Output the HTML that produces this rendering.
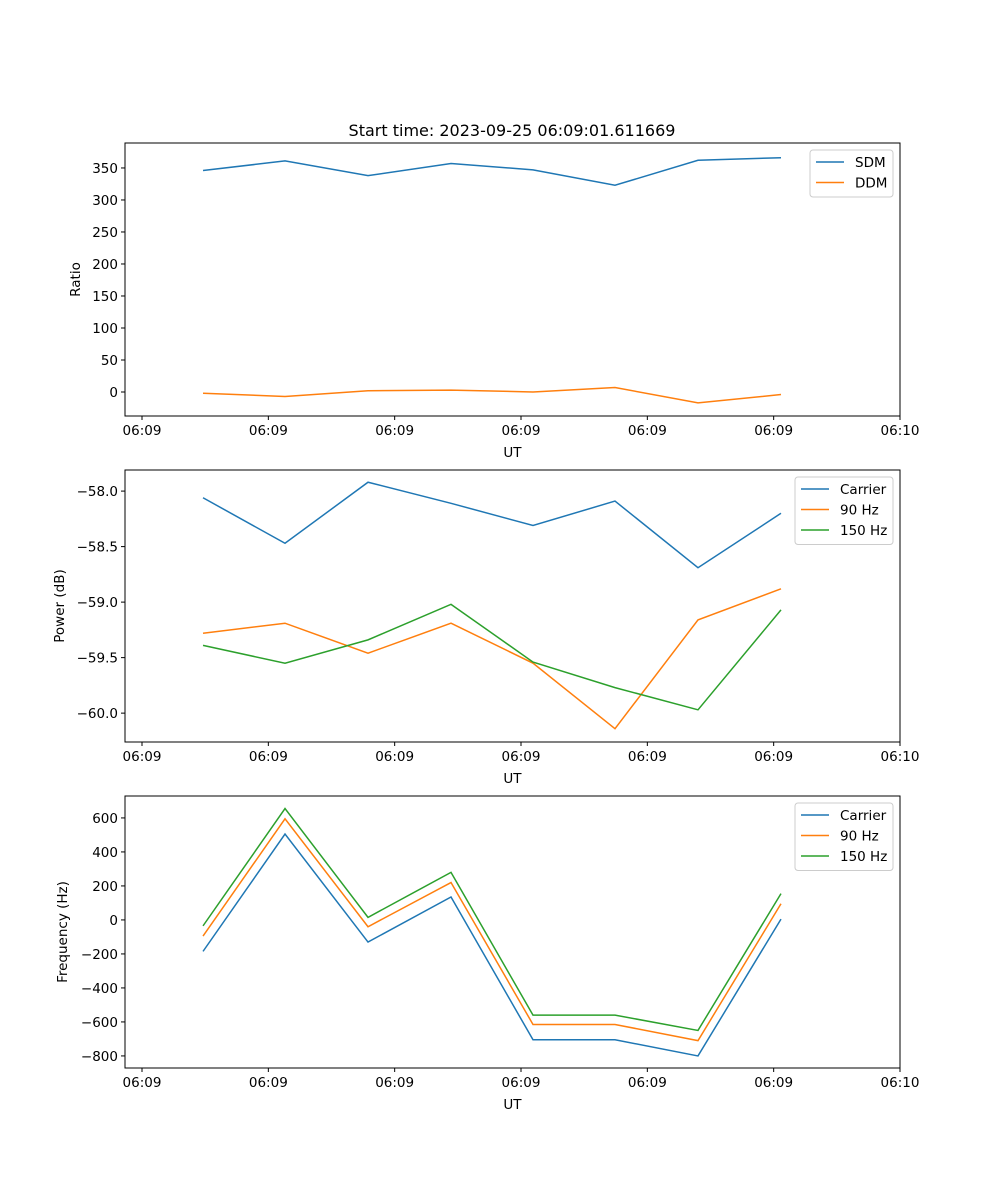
<!DOCTYPE html>
<html><head><meta charset="utf-8"><style>
body{margin:0;background:#fff}
svg{display:block;font-family:"DejaVu Sans","Liberation Sans",sans-serif}
</style></head><body>
<svg id="fig" width="1000" height="1200" xmlns="http://www.w3.org/2000/svg">
<text x="512" y="136" font-size="16" text-anchor="middle">Start time: 2023-09-25 06:09:01.611669</text>
</svg>
<script>
const times = [4.83, 11.32, 17.89, 24.46, 30.95, 37.44, 44.01, 50.58];
const xTickVals = [0, 10, 20, 30, 40, 50, 60];
const xTickLabels = ["06:09","06:09","06:09","06:09","06:09","06:09","06:10"];
const sdm = [346, 361, 338, 357, 347, 323, 362, 366];
const ddm = [-2, -7, 2, 3, 0, 7, -17, -4];
const pwrCarrier = [-58.06, -58.47, -57.92, -58.11, -58.31, -58.09, -58.69, -58.20];
const pwr90 = [-59.28, -59.19, -59.46, -59.19, -59.55, -60.14, -59.16, -58.88];
const pwr150 = [-59.39, -59.55, -59.34, -59.02, -59.54, -59.77, -59.97, -59.07];
const frqCarrier = [-185, 505, -130, 135, -705, -705, -800, 5];
const frq90 = [-95, 595, -40, 220, -615, -615, -710, 95];
const frq150 = [-35, 655, 15, 280, -560, -560, -650, 155];
const ticks1 = [0, 50, 100, 150, 200, 250, 300, 350];
const ticks2 = [-60.0, -59.5, -59.0, -58.5, -58.0];
const ticks3 = [-800, -600, -400, -200, 0, 200, 400, 600];

const NS = "http://www.w3.org/2000/svg";
const svg = document.getElementById('fig');
const C = ['#1f77b4', '#ff7f0e', '#2ca02c'];
function mk(tag, attrs, parent) {
  const e = document.createElementNS(NS, tag);
  for (const k in attrs) e.setAttribute(k, attrs[k]);
  (parent || svg).appendChild(e);
  return e;
}
const L = 125, R = 900, XMIN = -1.346, XMAX = 60.0;
const xs = v => L + (v - XMIN) / (XMAX - XMIN) * (R - L);

function panel(name, top, bot, ymin, ymax, yticks, fmt, ylabel, series, legend) {
  const g = mk('g', {});
  
  
  const ys = v => bot - (v - ymin) / (ymax - ymin) * (bot - top);
  series.forEach((s, i) => {
    const p = mk('polyline', {points: s.d.map((v, j) => xs(times[j]) + ',' + ys(v)).join(' '), fill: 'none', stroke: C[i], 'stroke-width': 1.5}, g);
    
    
  });
  mk('rect', {x: L, y: top, width: R - L, height: bot - top, fill: 'none', stroke: '#000', 'stroke-width': 1}, g);
  xTickVals.forEach((v, i) => {
    mk('line', {x1: xs(v), x2: xs(v), y1: bot, y2: bot + 4, stroke: '#000'}, g);
    const t = mk('text', {x: xs(v), y: bot + 19, 'font-size': 13.5, 'text-anchor': 'middle'}, g);
    t.textContent = xTickLabels[i];
    
    
  });
  yticks.forEach(v => {
    mk('line', {x1: L - 4, x2: L, y1: ys(v), y2: ys(v), stroke: '#000'}, g);
    const t = mk('text', {x: L - 7, y: ys(v) + 5, 'font-size': 13.5, 'text-anchor': 'end'}, g);
    t.textContent = fmt(v);
    
    
  });
  const xl = mk('text', {x: (L + R) / 2, y: bot + 41, 'font-size': 13.5, 'text-anchor': 'middle'}, g);
  xl.textContent = 'UT';
  
  
  const yl = mk('text', {x: 0, y: 0, 'font-size': 13.5, 'text-anchor': 'middle', transform: `translate(${legend.yx},${(top + bot) / 2}) rotate(-90)`}, g);
  yl.textContent = ylabel;
  
  
  const lg = mk('g', {}, g);
  
  
  const lh = series.length * 20.5 + 6;
  mk('rect', {x: legend.x, y: top + 7, width: R - 7 - legend.x, height: lh, rx: 3, fill: '#fff', stroke: '#ccc'}, lg);
  series.forEach((s, i) => {
    const y = top + 19 + i * 20.5;
    mk('line', {x1: legend.x + 6, x2: legend.x + 34, y1: y, y2: y, stroke: C[i], 'stroke-width': 1.5}, lg);
    const t = mk('text', {x: legend.x + 45, y: y + 5, 'font-size': 13.5}, lg);
    t.textContent = s.n;
    
    
  });
}
panel('ratio-panel', 143, 416, -37.5, 389, ticks1, v => String(v), 'Ratio', [{n: 'SDM', d: sdm}, {n: 'DDM', d: ddm}], {x: 810, yx: 80});
panel('power-panel', 470, 742, -60.26, -57.81, ticks2, v => v.toFixed(1).replace('-', '\u2212'), 'Power (dB)', [{n: 'Carrier', d: pwrCarrier}, {n: '90 Hz', d: pwr90}, {n: '150 Hz', d: pwr150}], {x: 795, yx: 64});
panel('frequency-panel', 796, 1068, -871, 729, ticks3, v => String(v).replace('-', '\u2212'), 'Frequency (Hz)', [{n: 'Carrier', d: frqCarrier}, {n: '90 Hz', d: frq90}, {n: '150 Hz', d: frq150}], {x: 795, yx: 67});
</script>
</body></html>
